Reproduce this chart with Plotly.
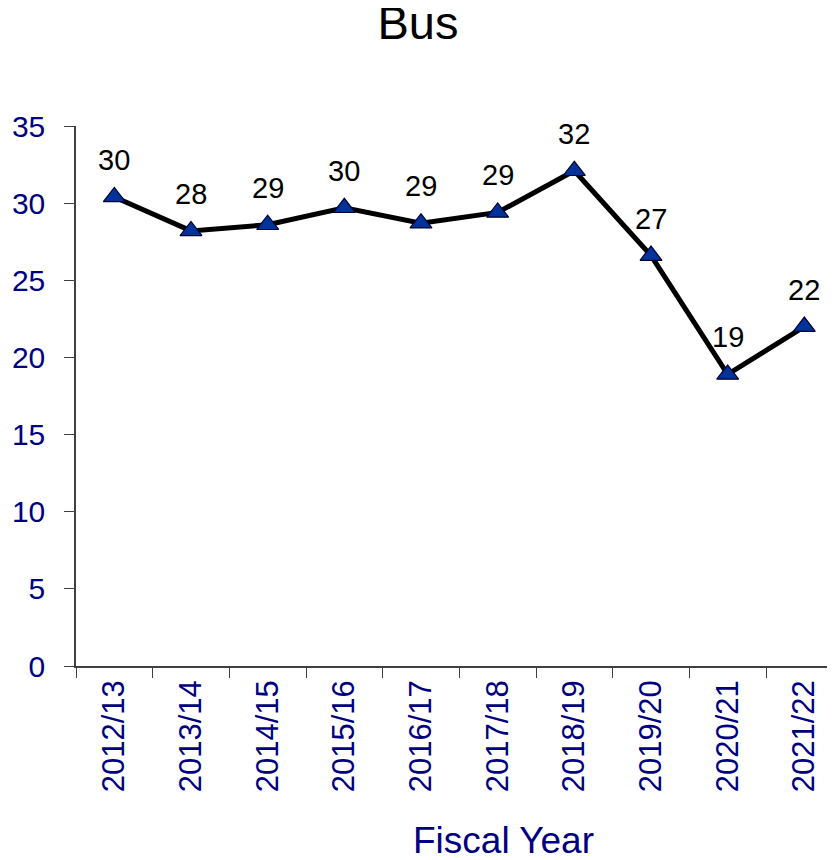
import plotly.graph_objects as go

years = ["2012/13", "2013/14", "2014/15", "2015/16", "2016/17",
         "2017/18", "2018/19", "2019/20", "2020/21", "2021/22"]
values = [30.4, 28.2, 28.6, 29.7, 28.7, 29.4, 32.1, 26.6, 18.9, 22.0]
labels = ["30", "28", "29", "30", "29", "29", "32", "27", "19", "22"]
y_ticks = [0, 5, 10, 15, 20, 25, 30, 35]

FONT = "Arial, Liberation Sans, sans-serif"
NAVY = "#000080"

# page body has an 8px margin; size the figure so it fills the 835x860 window
W, H = 827, 852

fig = go.Figure()
fig.add_trace(go.Scatter(
    x=years, y=values, mode="lines+markers",
    line=dict(color="black", width=5),
    marker=dict(symbol="triangle-up", size=19, color="#003399",
                line=dict(color="#000033", width=1.2)),
    showlegend=False, hoverinfo="skip",
))

for x, y, t in zip(years, values, labels):
    fig.add_annotation(x=x, y=y, text=t, showarrow=False, yshift=37,
                       font=dict(family=FONT, size=29, color="black"))

fig.add_annotation(text="Fiscal Year", xref="paper", yref="paper",
                   x=0.5626, y=-0.324, xanchor="center", yanchor="middle",
                   showarrow=False,
                   font=dict(family=FONT, size=37, color=NAVY))

fig.update_layout(
    width=W, height=H,
    margin=dict(l=68, r=0, t=118, b=194),
    paper_bgcolor="white", plot_bgcolor="white",
    title=dict(text="Bus", x=410 / W, xref="container", xanchor="center",
               y=1 - 15 / H, yanchor="middle", yref="container",
               font=dict(family=FONT, size=47, color="black")),
    font=dict(family=FONT),
)
fig.update_xaxes(
    type="category", range=[-0.5, 9.4],
    showline=True, linecolor="#404040", linewidth=1.5,
    ticks="outside", tickson="boundaries", ticklen=10, tickcolor="#404040",
    tickangle=-90, tickfont=dict(family=FONT, size=31, color=NAVY),
    ticklabelstandoff=0,
    showgrid=False, zeroline=False,
)
fig.update_yaxes(
    range=[0, 35], tickvals=y_ticks,
    showline=True, linecolor="#404040", linewidth=1.5,
    ticks="outside", ticklen=10, tickcolor="#404040",
    tickfont=dict(family=FONT, size=30, color=NAVY),
    ticklabelstandoff=13,
    showgrid=False, zeroline=False,
)

fig.write_html("out.html")
